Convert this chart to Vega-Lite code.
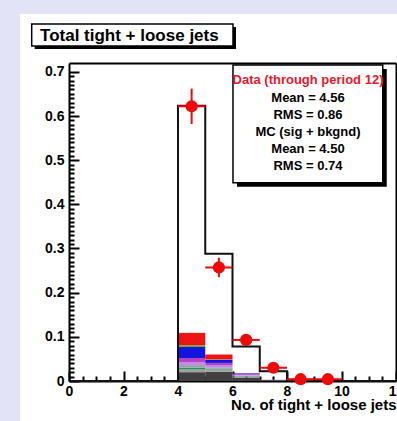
{
  "$schema": "https://vega.github.io/schema/vega-lite/v6.json",
  "width": 327,
  "height": 318,
  "autosize": "none",
  "padding": {"left": 69, "top": 63, "right": 1, "bottom": 40},
  "background": "#e3e3f8",
  "config": {
    "view": {"fill": "white", "stroke": "white", "strokeWidth": 98},
    "font": "Liberation Sans",
    "axis": {
      "grid": false,
      "zindex": 1,
      "labelFont": "Liberation Sans",
      "labelFontWeight": "bold",
      "labelFontSize": 14,
      "labelColor": "black",
      "domainColor": "black",
      "domainWidth": 2,
      "tickColor": "black",
      "tickWidth": 2,
      "labelFlush": false,
      "labelOverlap": false,
      "labelBound": false
    }
  },
  "resolve": {"axis": {"x": "independent", "y": "independent"}},
  "datasets": {
    "stack": [
      {"lo": 4, "hi": 5, "comp": "mc1", "k": 1, "val": 0.020},
      {"lo": 4, "hi": 5, "comp": "mc2", "k": 2, "val": 0.006},
      {"lo": 4, "hi": 5, "comp": "mc3", "k": 3, "val": 0.004},
      {"lo": 4, "hi": 5, "comp": "mc4", "k": 4, "val": 0.006},
      {"lo": 4, "hi": 5, "comp": "mc5", "k": 5, "val": 0.006},
      {"lo": 4, "hi": 5, "comp": "mc6", "k": 6, "val": 0.010},
      {"lo": 4, "hi": 5, "comp": "mc7", "k": 7, "val": 0.025},
      {"lo": 4, "hi": 5, "comp": "mc8", "k": 8, "val": 0.004},
      {"lo": 4, "hi": 5, "comp": "mc9", "k": 9, "val": 0.028},
      {"lo": 5, "hi": 6, "comp": "mc1", "k": 1, "val": 0.021},
      {"lo": 5, "hi": 6, "comp": "mc2", "k": 2, "val": 0.005},
      {"lo": 5, "hi": 6, "comp": "mc3", "k": 3, "val": 0.002},
      {"lo": 5, "hi": 6, "comp": "mc4", "k": 4, "val": 0.003},
      {"lo": 5, "hi": 6, "comp": "mc5", "k": 5, "val": 0.004},
      {"lo": 5, "hi": 6, "comp": "mc6", "k": 6, "val": 0.006},
      {"lo": 5, "hi": 6, "comp": "mc7", "k": 7, "val": 0.007},
      {"lo": 5, "hi": 6, "comp": "mc8", "k": 8, "val": 0.001},
      {"lo": 5, "hi": 6, "comp": "mc9", "k": 9, "val": 0.011},
      {"lo": 6, "hi": 7, "comp": "mc1", "k": 1, "val": 0.008},
      {"lo": 6, "hi": 7, "comp": "mc2", "k": 2, "val": 0.002},
      {"lo": 6, "hi": 7, "comp": "mc3", "k": 3, "val": 0.001},
      {"lo": 6, "hi": 7, "comp": "mc4", "k": 4, "val": 0.001},
      {"lo": 6, "hi": 7, "comp": "mc5", "k": 5, "val": 0.002},
      {"lo": 6, "hi": 7, "comp": "mc6", "k": 6, "val": 0.003},
      {"lo": 6, "hi": 7, "comp": "mc7", "k": 7, "val": 0.001},
      {"lo": 7, "hi": 8, "comp": "mc1", "k": 1, "val": 0.002},
      {"lo": 7, "hi": 8, "comp": "mc5", "k": 5, "val": 0.001}
    ],
    "mc": [
      {"edge": 0, "mc": 0},
      {"edge": 1, "mc": 0},
      {"edge": 2, "mc": 0},
      {"edge": 3, "mc": 0},
      {"edge": 4, "mc": 0.623},
      {"edge": 5, "mc": 0.288},
      {"edge": 6, "mc": 0.078},
      {"edge": 7, "mc": 0.022},
      {"edge": 8, "mc": 0.003},
      {"edge": 9, "mc": 0.001},
      {"edge": 10, "mc": 0},
      {"edge": 11, "mc": 0},
      {"edge": 12, "mc": 0}
    ],
    "obs": [
      {"lo": 4, "hi": 5, "mid": 4.5, "frac": 0.622, "ylo": 0.582, "yhi": 0.662},
      {"lo": 5, "hi": 6, "mid": 5.5, "frac": 0.257, "ylo": 0.235, "yhi": 0.279},
      {"lo": 6, "hi": 7, "mid": 6.5, "frac": 0.093, "ylo": 0.081, "yhi": 0.105},
      {"lo": 7, "hi": 8, "mid": 7.5, "frac": 0.030, "ylo": 0.023, "yhi": 0.037},
      {"lo": 8, "hi": 9, "mid": 8.5, "frac": 0.004, "ylo": 0.001, "yhi": 0.007},
      {"lo": 9, "hi": 10, "mid": 9.5, "frac": 0.004, "ylo": 0.001, "yhi": 0.007}
    ]
  },
  "layer": [
    {
      "data": {"name": "stack"},
      "transform": [
        {"stack": "val", "groupby": ["lo"], "sort": [{"field": "k", "order": "ascending"}], "as": ["v0", "v1"]}
      ],
      "mark": {"type": "bar", "strokeWidth": 0},
      "encoding": {
        "x": {
          "field": "lo", "type": "quantitative",
          "scale": {"domain": [0, 12], "nice": false, "zero": false},
          "axis": {
            "orient": "bottom", "values": [0, 2, 4, 6, 8, 10, 12], "ticks": false, "labelPadding": 3,
            "title": "No. of tight + loose jets", "titleFont": "Liberation Sans", "titleFontWeight": "bold",
            "titleFontSize": 15, "titleColor": "black", "titleAnchor": "end", "titleY": 23, "titleBaseline": "middle"
          }
        },
        "x2": {"field": "hi"},
        "y": {
          "field": "v0", "type": "quantitative",
          "scale": {"domain": [0, 0.72], "nice": false},
          "axis": {"orient": "left", "values": [0, 0.1, 0.2, 0.3, 0.4, 0.5, 0.6, 0.7], "format": ".1~f", "ticks": false, "labelPadding": 5, "title": null}
        },
        "y2": {"field": "v1"},
        "color": {
          "field": "comp", "type": "nominal", "legend": null,
          "scale": {
            "domain": ["mc1", "mc2", "mc3", "mc4", "mc5", "mc6", "mc7", "mc8", "mc9"],
            "range": ["#404040", "#a0a0a0", "#2e8b57", "#8fa3a8", "#c58af0", "#b544c4", "#1414e0", "#66b022", "#ee1414"]
          }
        }
      }
    },
    {
      "data": {"name": "mc"},
      "mark": {"type": "line", "interpolate": "step-after", "color": "#111111", "strokeWidth": 2},
      "encoding": {
        "x": {"field": "edge", "type": "quantitative",
          "axis": {"orient": "bottom", "values": [0, 2, 4, 6, 8, 10, 12], "labels": false, "domain": false, "tickSize": 10, "offset": -10, "title": null}},
        "y": {"field": "mc", "type": "quantitative",
          "axis": {"orient": "left", "values": [0, 0.1, 0.2, 0.3, 0.4, 0.5, 0.6, 0.7], "labels": false, "domain": false, "tickSize": 10, "offset": -10, "title": null}}
      }
    },
    {
      "data": {"name": "obs"},
      "mark": {"type": "rule", "color": "#ee0a0a", "strokeWidth": 2},
      "encoding": {
        "x": {"field": "lo", "type": "quantitative",
          "axis": {"orient": "bottom", "values": [0.5, 1, 1.5, 2.5, 3, 3.5, 4.5, 5, 5.5, 6.5, 7, 7.5, 8.5, 9, 9.5, 10.5, 11, 11.5], "labels": false, "domain": false, "tickSize": 5, "offset": -5, "title": null}},
        "x2": {"field": "hi"},
        "y": {"field": "frac", "type": "quantitative",
          "axis": {"orient": "left", "values": [0.01, 0.02, 0.03, 0.04, 0.05, 0.06, 0.07, 0.08, 0.09, 0.11, 0.12, 0.13, 0.14, 0.15, 0.16, 0.17, 0.18, 0.19, 0.21, 0.22, 0.23, 0.24, 0.25, 0.26, 0.27, 0.28, 0.29, 0.31, 0.32, 0.33, 0.34, 0.35, 0.36, 0.37, 0.38, 0.39, 0.41, 0.42, 0.43, 0.44, 0.45, 0.46, 0.47, 0.48, 0.49, 0.51, 0.52, 0.53, 0.54, 0.55, 0.56, 0.57, 0.58, 0.59, 0.61, 0.62, 0.63, 0.64, 0.65, 0.66, 0.67, 0.68, 0.69], "labels": false, "domain": false, "tickSize": 5, "offset": -5, "title": null}}
      }
    },
    {
      "data": {"name": "obs"},
      "mark": {"type": "rule", "color": "#ee0a0a", "strokeWidth": 2},
      "encoding": {
        "x": {"field": "mid", "type": "quantitative",
          "axis": {"orient": "top", "labels": false, "ticks": false, "domain": true, "title": null}},
        "y": {"field": "ylo", "type": "quantitative",
          "axis": {"orient": "right", "labels": false, "ticks": false, "domain": true, "title": null}},
        "y2": {"field": "yhi"}
      }
    },
    {
      "data": {"name": "obs"},
      "mark": {"type": "point", "filled": true, "shape": "circle", "size": 150, "color": "#ee0a0a", "opacity": 1},
      "encoding": {
        "x": {"field": "mid", "type": "quantitative", "axis": null},
        "y": {"field": "frac", "type": "quantitative", "axis": null}
      }
    },
    {
      "data": {"values": [{}]},
      "mark": {"type": "rect", "color": "black"},
      "encoding": {
        "x": {"datum": -1.259, "type": "quantitative", "axis": null},
        "x2": {"datum": 6.128},
        "y": {"datum": 0.7516, "type": "quantitative", "axis": null},
        "y2": {"datum": 0.8014}
      }
    },
    {
      "data": {"values": [{}]},
      "mark": {"type": "rect", "fill": "white", "stroke": "black", "strokeWidth": 1.5},
      "encoding": {
        "x": {"datum": -1.369, "type": "quantitative", "axis": null},
        "x2": {"datum": 6.018},
        "y": {"datum": 0.7584, "type": "quantitative", "axis": null},
        "y2": {"datum": 0.8082}
      }
    },
    {
      "data": {"values": [{"label": "Total tight + loose jets"}]},
      "mark": {"type": "text", "align": "left", "baseline": "alphabetic", "font": "Liberation Sans", "fontWeight": "bold", "fontSize": 17, "color": "black"},
      "encoding": {
        "x": {"datum": -1.064, "type": "quantitative", "axis": null},
        "y": {"datum": 0.7698, "type": "quantitative", "axis": null},
        "text": {"field": "label", "type": "nominal"}
      }
    },
    {
      "data": {"values": [{}]},
      "mark": {"type": "rect", "color": "black"},
      "encoding": {
        "x": {"datum": 6.165, "type": "quantitative", "axis": null},
        "x2": {"datum": 11.66},
        "y": {"datum": 0.44, "type": "quantitative", "axis": null},
        "y2": {"datum": 0.7064}
      }
    },
    {
      "data": {"values": [{}]},
      "mark": {"type": "rect", "fill": "white", "stroke": "black", "strokeWidth": 1.5},
      "encoding": {
        "x": {"datum": 6.018, "type": "quantitative", "axis": null},
        "x2": {"datum": 11.514},
        "y": {"datum": 0.449, "type": "quantitative", "axis": null},
        "y2": {"datum": 0.7154}
      }
    },
    {
      "data": {"values": [{"label": "Data (through period 12)"}]},
      "mark": {"type": "text", "align": "center", "baseline": "alphabetic", "font": "Liberation Sans", "fontWeight": "bold", "fontSize": 13, "color": "#e31a2c"},
      "encoding": {
        "x": {"datum": 8.77, "type": "quantitative", "axis": null},
        "y": {"datum": 0.6724, "type": "quantitative", "axis": null},
        "text": {"field": "label", "type": "nominal"}
      }
    },
    {
      "data": {"values": [{}]},
      "mark": {
        "type": "text", "align": "center", "baseline": "alphabetic", "font": "Liberation Sans", "fontWeight": "bold", "fontSize": 13, "color": "black", "lineHeight": 17,
        "text": ["Mean = 4.56", "RMS = 0.86", "MC (sig + bkgnd)", "Mean = 4.50", "RMS = 0.74"]
      },
      "encoding": {
        "x": {"datum": 8.77, "type": "quantitative", "axis": null},
        "y": {"datum": 0.6325, "type": "quantitative", "axis": null}
      }
    }
  ]
}
